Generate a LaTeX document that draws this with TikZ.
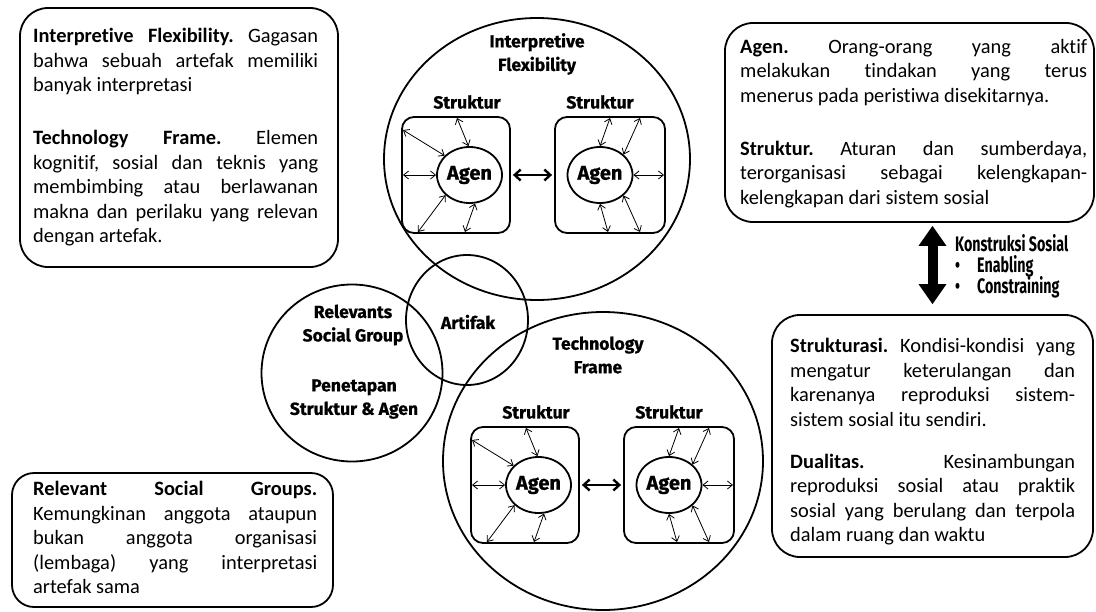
\documentclass[tikz,border=0pt]{standalone}
\usepackage{fontspec}
\setmainfont{Carlito}[Ligatures=NoCommon]
\newfontfamily\lblfont[BoldFeatures={FakeBold=0.8}]{Fira Sans}
\newfontfamily\condfont[FakeStretch=0.68]{Fira Sans}
\usetikzlibrary{shapes.geometric,arrows.meta,calc}

\tikzset{
  x=1pt, y=-1pt,
  panel/.style={draw, line width=1.8pt, rounded corners=28pt, inner sep=0pt},
  txt/.style={anchor=north west, inner sep=0pt, align=justify,
    font=\fontsize{20.4}{24.5}\selectfont,
    execute at begin node={\parindent=0pt\frenchspacing\hyphenpenalty=10000\tolerance=10000}},
  ring/.style={draw, ellipse, line width=1.8pt, inner sep=0pt},
  lbl/.style={align=center, inner sep=0pt, font=\lblfont\bfseries\fontsize{17.5}{23.5}\selectfont},
  sbox/.style={draw, line width=1.8pt, rounded corners=12pt, inner sep=0pt, minimum height=116pt},
  agen/.style={draw, ellipse, line width=1.8pt, inner sep=0pt, minimum width=65pt, minimum height=56pt,
    font=\lblfont\bfseries\fontsize{20}{24}\selectfont},
  tiny/.style={line width=0.8pt, {Straight Barb[length=5pt,width=8pt]}-{Straight Barb[length=5pt,width=8pt]}},
  link/.style={line width=2.4pt, shorten <=2pt, shorten >=2pt,
    {Straight Barb[length=6pt,width=11pt]}-{Straight Barb[length=6pt,width=11pt]}},
  bigarrow/.style={line width=10pt, shorten <=3pt, shorten >=10pt,
    {Triangle[length=20pt,width=28pt,line width=0pt]}-{Triangle[length=20pt,width=28pt,line width=0pt]}},
  cond/.style={inner sep=0pt, anchor=base west, font=\condfont\bfseries\fontsize{21}{21}\selectfont},
}

% two structures, each with an agent, joined by a mutual link
\newcommand\agengroup{%
  \node[sbox, minimum width=108pt] (bxL) at (456,175) {};
  \node[sbox, minimum width=110pt] (bxR) at (610,175) {};
  \node[agen] (agL) at (469.5,175) {Agen};
  \node[agen] (agR) at (600,175) {Agen};
  \node[lbl] (stL) at (467,102) {Struktur};
  \node[lbl] (stR) at (600,102) {Struktur};
  \draw[link] (bxL.east) -- (bxR.west);
  \draw[tiny] (agL.142) -- (403,130);
  \draw[tiny] (agL.92)  -- (457,118);
  \draw[tiny] (agL.180) -- (403,175);
  \draw[tiny] (agL.220) -- (418,232);
  \draw[tiny] (agL.281) -- (465,232);
  \draw[tiny] (agR.90)  -- (610,118);
  \draw[tiny] (agR.41)  -- (640,118);
  \draw[tiny] (agR.0)   -- (664,175);
  \draw[tiny] (agR.270) -- (608,232);
  \draw[tiny] (agR.319) -- (640,232);
}

\begin{document}
\begin{tikzpicture}
\useasboundingbox (0,0) rectangle (1096,611);

% explanation panels
\node[panel, minimum width=318pt, minimum height=259pt] (tl) at (179,137.5) {};
\node[txt, text width=285pt] (tltxt) at (33,28) {%
\textbf{Interpretive Flexibility.} Gagasan\linebreak
bahwa sebuah artefak memiliki\linebreak
banyak interpretasi\par\vspace{28.5pt}
\textbf{Technology Frame.} Elemen\linebreak
kognitif, sosial dan teknis yang\linebreak
membimbing atau berlawanan\linebreak
makna dan perilaku yang relevan\linebreak
dengan artefak.};

\node[panel, minimum width=369pt, minimum height=199pt] (tr) at (909.5,122.5) {};
\node[txt, text width=347pt] (trtxt) at (740,39) {%
\textbf{Agen.} Orang-orang yang aktif\linebreak
melakukan tindakan yang terus\linebreak
menerus pada peristiwa disekitarnya.\par\vspace{28.5pt}
\textbf{Struktur.} Aturan dan sumberdaya,\linebreak
terorganisasi sebagai kelengkapan-\linebreak
kelengkapan dari sistem sosial};

\node[panel, minimum width=321pt, minimum height=242pt] (br) at (932.5,436) {};
\node[txt, text width=285pt] (brtxt) at (790,338) {%
\textbf{Strukturasi.} Kondisi-kondisi yang\linebreak
mengatur keterulangan dan\linebreak
karenanya reproduksi sistem-\linebreak
sistem sosial itu sendiri.\par\vspace{17.5pt}
\textbf{Dualitas.} Kesinambungan\linebreak
reproduksi sosial atau praktik\linebreak
sosial yang berulang dan terpola\linebreak
dalam ruang dan waktu};

\node[panel, rounded corners=22pt, minimum width=321pt, minimum height=134pt] (bl) at (172.5,540) {};
\node[txt, text width=284pt] (bltxt) at (33,481) {%
\textbf{Relevant Social Groups.}\linebreak
Kemungkinan anggota ataupun\linebreak
bukan anggota organisasi\linebreak
(lembaga) yang interpretasi\linebreak
artefak sama};

% social construction arrow between the two right panels
\draw[bigarrow] (tr.south -| br.north) -- (br.north);
\node[cond] (ks) at (955,251) {Konstruksi Sosial};
\node[cond] (b1) at (955,272) {•};
\node[cond] (en) at (977,272) {Enabling};
\node[cond] (b2) at (955,293) {•};
\node[cond] (co) at (977,293) {Constraining};

% overlapping circles
\node[ring, minimum width=306pt, minimum height=282pt] (ifc) at (537,159) {};
\node[ring, minimum width=320pt, minimum height=298pt] (tfc) at (603,461) {};
\node[ring, minimum width=122pt, minimum height=130pt] (arc) at (467,320) {};
\node[ring, minimum width=181pt, minimum height=177pt] (rsg) at (352,373) {};

\node[lbl] (iflbl) at (537,54) {Interpretive\\Flexibility};
\node[lbl] (tflbl) at (598,355) {Technology\\Frame};
\node[lbl] (artlbl) at (468,322) {Artifak};
\node[lbl] (rsglbl) at (353,325) {Relevants\\Social Group};
\node[lbl] (pslbl) at (354,399) {Penetapan\\Struktur \& Agen};

% structure/agent groups inside the two large circles
\begin{scope}[name prefix=top-]
  \agengroup
\end{scope}
\begin{scope}[shift={(69,310)}, name prefix=bot-]
  \agengroup
\end{scope}
\end{tikzpicture}
\end{document}
